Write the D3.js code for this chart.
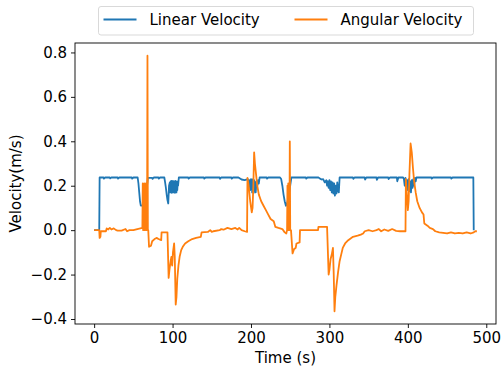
<!DOCTYPE html>
<html>
<head>
<meta charset="utf-8">
<script src="https://cdn.jsdelivr.net/npm/d3@7"></script>
<style>
  body { margin: 0; background: #fff; }
  svg { font-family: "DejaVu Sans", sans-serif; }
</style>
</head>
<body>
<div id="chart"></div>
<script>
// linear velocity samples (time s, m/s), one segment per line
const linearT = [
  0, 6.5, 7, 12, 12.5, 14, 20, 20.5, 22, 30, 30.5, 32, 40, 48, 48.5, 50, 55.5, 56.5, 57.5, 58.5, 59.5, 60.5, 62, 64, 66, 68.5,
  74, 74.5, 76, 82, 82.5, 84, 89.5, 90.5, 91.5, 92.5, 93.5, 94.5, 95.5, 96.5,
  97, 97.5, 98, 98.5, 99, 99.5, 100, 100.5, 101, 101.5, 102, 102.5, 103, 103.5, 104, 104.5, 105, 105.5, 106, 106.5, 107, 108,
  120, 120.5, 122, 140, 140.5, 142, 160, 160.5, 162, 175, 175.5, 177, 184, 188, 192,
  196, 197, 198, 199, 200, 200.5, 201, 201.5, 202, 202.5, 203, 203.5, 204, 204.5, 205, 206, 207, 208, 209, 210, 211,
  220, 220.5, 222, 237, 238.5, 240, 241.5, 243, 244.5, 246, 248, 250, 251.5, 270, 270.5, 272, 286, 288,
  290, 292, 294, 296, 297, 298, 299, 300, 301, 302, 303, 304, 305, 306, 307, 308, 309, 310, 311, 312, 313,
  330, 330.5, 332, 345, 345.5, 347, 360, 360.5, 362, 375, 375.5, 377, 386, 386.5, 388,
  394, 395, 396, 397, 398, 399, 400, 401, 402, 403, 404, 405, 406, 407, 408, 409, 410, 411,
  430, 430.5, 432, 455, 455.5, 457, 483.5, 484
];
const linearV = [
  0, 0, 0.237, 0.237, 0.232, 0.237, 0.237, 0.233, 0.237, 0.237, 0.232, 0.237, 0.237, 0.237, 0.232, 0.237, 0.237, 0.21, 0.17, 0.13, 0.11, 0.11, 0.11, 0.2, 0.15, 0.235,
  0.235, 0.231, 0.237, 0.237, 0.232, 0.237, 0.237, 0.215, 0.19, 0.16, 0.135, 0.12, 0.2, 0.215,
  0.17, 0.22, 0.175, 0.222, 0.168, 0.22, 0.18, 0.222, 0.17, 0.215, 0.18, 0.22, 0.168, 0.222, 0.175, 0.215, 0.17, 0.22, 0.18, 0.215, 0.2, 0.237,
  0.237, 0.232, 0.237, 0.237, 0.232, 0.237, 0.237, 0.231, 0.237, 0.237, 0.232, 0.237, 0.237, 0.228, 0.225,
  0.23, 0.2, 0.225, 0.18, 0.23, 0.19, 0.22, 0.17, 0.228, 0.185, 0.22, 0.168, 0.225, 0.18, 0.22, 0.17, 0.215, 0.2, 0.225, 0.21, 0.237,
  0.237, 0.232, 0.237, 0.237, 0.23, 0.2, 0.16, 0.13, 0.11, 0.12, 0.15, 0.2, 0.237, 0.237, 0.232, 0.237, 0.237, 0.232,
  0.228, 0.23, 0.215, 0.225, 0.2, 0.22, 0.19, 0.225, 0.18, 0.22, 0.17, 0.215, 0.165, 0.21, 0.155, 0.2, 0.165, 0.215, 0.175, 0.17, 0.237,
  0.237, 0.231, 0.237, 0.237, 0.228, 0.237, 0.237, 0.226, 0.237, 0.237, 0.23, 0.237, 0.237, 0.22, 0.237,
  0.237, 0.23, 0.2, 0.235, 0.19, 0.225, 0.18, 0.23, 0.175, 0.22, 0.17, 0.225, 0.19, 0.23, 0.2, 0.235, 0.22, 0.237,
  0.237, 0.232, 0.237, 0.237, 0.232, 0.237, 0.237, 0
];

// angular velocity samples (time s, rad/s), one segment per line
const angularT = [
  0, 6.5, 7, 8, 8.5, 15, 16, 18, 20, 22, 25, 28, 30, 35, 40, 42, 45, 50, 55,
  61.5, 62, 62.5, 63, 63.5, 64, 64.5, 65, 65.5, 66, 66.5, 67, 67.5, 68, 68.5, 69,
  70, 72.5, 74, 77, 80, 82, 85.5, 86, 93.5,
  95, 96, 97.5, 98.5, 99.5, 100.5, 102, 102.8, 104, 105, 106, 107.5, 109, 111, 113, 116, 120, 125, 130, 136, 137,
  145, 148, 150, 152, 160, 162, 165, 170, 175, 180, 183, 185, 188, 192, 195,
  195.5, 197, 199, 201, 202, 203, 204, 205, 206.5, 208, 210, 213, 216, 219, 222, 225, 229, 231, 235, 240, 243, 245,
  246, 246.5, 247, 247.5, 248, 248.5, 249, 249.5, 250, 251,
  253, 255, 257, 258, 262, 262.5, 270, 276, 285.5, 286, 297,
  299, 300, 301.5, 303, 304.5, 305.5, 306.5, 307.5, 309, 311, 313, 315, 317, 320, 324, 330, 336, 340, 343, 345,
  350, 355, 360, 363, 366, 370, 375, 380, 385, 390, 397,
  397.5, 399, 400, 401, 402, 403.5, 405, 406.5, 408, 410, 412, 415, 418, 420, 421, 425, 428, 432, 435,
  440, 445, 450, 455, 460, 465, 470, 475, 480, 484, 486, 488
];
const angularV = [
  0, 0, -0.035, -0.03, -0.005, -0.005, 0.008, 0.003, 0.01, 0.003, 0.008, 0, -0.002, -0.002, 0.005, -0.005, 0, 0, 0.005,
  0.01, 0.21, 0, 0.2, 0.01, 0.21, 0, 0.2, 0.01, 0.21, 0, 0.2, 0.005, 0.785, 0, 0,
  -0.075, -0.07, -0.05, -0.04, -0.035, -0.04, -0.045, -0.01, -0.01,
  -0.215, -0.18, -0.14, -0.12, -0.16, -0.1, -0.06, -0.12, -0.335, -0.3, -0.22, -0.16, -0.12, -0.09, -0.075, -0.06, -0.05, -0.04, -0.035, -0.03, -0.01,
  -0.008, 0, -0.008, -0.005, 0, 0.005, 0.002, 0.01, 0.005, 0.01, 0.003, 0.01, 0, -0.005, -0.008,
  0.235, 0.2, 0.13, 0.08, 0.1, 0.2, 0.35, 0.3, 0.25, 0.2, 0.16, 0.13, 0.11, 0.09, 0.07, 0.05, 0.04, 0.015, 0.01, 0.005, -0.01, -0.015,
  0, 0.2, 0.01, 0.21, 0, 0.2, 0.01, 0.4, 0, 0,
  -0.105, -0.085, -0.08, -0.06, -0.055, 0, 0, 0, 0, 0.015, 0.015,
  -0.2, -0.18, -0.13, -0.11, -0.08, -0.2, -0.365, -0.3, -0.25, -0.19, -0.14, -0.11, -0.08, -0.06, -0.045, -0.03, -0.025, -0.02, -0.015, -0.005,
  0, -0.005, 0, 0.005, -0.005, 0.003, -0.003, 0.005, -0.003, -0.005, -0.005,
  0.23, 0.15, 0.09, 0.13, 0.25, 0.39, 0.35, 0.28, 0.22, 0.17, 0.13, 0.1, 0.08, 0.07, 0.03, 0.02, 0.01, 0.005, -0.005,
  -0.01, -0.012, -0.015, -0.01, -0.015, -0.012, -0.015, -0.01, -0.015, -0.01, -0.005, -0.005
];

const xTicks = [0, 100, 200, 300, 400, 500];
const yTicks = [-0.4, -0.2, 0.0, 0.2, 0.4, 0.6, 0.8];
const seriesNames = ["Linear Velocity", "Angular Velocity"];
const seriesColors = ["#1f77b4", "#ff7f0e"];

const width = 501, height = 369;
const margin = { top: 43, right: 5, bottom: 45, left: 75 };
const innerW = width - margin.left - margin.right;
const innerH = height - margin.top - margin.bottom;
const fontSize = "15px";

const svg = d3.select("#chart").append("svg")
  .attr("width", width)
  .attr("height", height);

const series = [
  linearT.map((t, i) => ({ t, v: linearV[i] })),
  angularT.map((t, i) => ({ t, v: angularV[i] }))
];

// matplotlib-like 5% margins
const allT = linearT.concat(angularT), allV = linearV.concat(angularV);
const [tMin, tMax] = d3.extent(allT), [vMin, vMax] = d3.extent(allV);
const tPad = (tMax - tMin) * 0.05, vPad = (vMax - vMin) * 0.05;

const x = d3.scaleLinear().domain([tMin - tPad, tMax + tPad]).range([margin.left, margin.left + innerW]);
const y = d3.scaleLinear().domain([vMin - vPad, vMax + vPad]).range([margin.top + innerH, margin.top]);

const line = d3.line().x(d => x(d.t)).y(d => y(d.v));

const plot = svg.append("g");
series.forEach((s, i) => {
  plot.append("path")
    .datum(s)
    .attr("fill", "none")
    .attr("stroke", seriesColors[i])
    .attr("stroke-width", 1.8)
    .attr("stroke-linejoin", "round")
    .attr("d", line);
});

const xAxis = svg.append("g")
  .attr("transform", `translate(0,${margin.top + innerH})`)
  .call(d3.axisBottom(x).tickValues(xTicks).tickFormat(d3.format("d")).tickSize(4).tickPadding(4.5));
const yAxis = svg.append("g")
  .attr("transform", `translate(${margin.left},0)`)
  .call(d3.axisLeft(y).tickValues(yTicks).tickFormat(d3.format(".1f")).tickSize(4).tickPadding(4));

[xAxis, yAxis].forEach(g => {
  g.select(".domain").remove();
  g.selectAll("line").attr("stroke", "#000").attr("stroke-width", 0.9);
  g.selectAll("text").attr("fill", "#000").style("font-size", fontSize).style("font-family", "DejaVu Sans");
});

svg.append("rect")
  .attr("x", margin.left).attr("y", margin.top)
  .attr("width", innerW).attr("height", innerH)
  .attr("fill", "none").attr("stroke", "#000").attr("stroke-width", 0.9);

svg.append("text")
  .attr("x", margin.left + innerW / 2).attr("y", 363)
  .attr("text-anchor", "middle")
  .style("font-size", fontSize)
  .text("Time (s)");

svg.append("text")
  .attr("transform", `translate(21,${margin.top + innerH / 2}) rotate(-90)`)
  .attr("text-anchor", "middle")
  .style("font-size", fontSize)
  .text("Velocity(m/s)");

// legend
const legend = svg.append("g");
legend.append("rect")
  .attr("x", 98.5).attr("y", 6.5).attr("width", 375).attr("height", 28.5).attr("rx", 2.5)
  .attr("fill", "#fff").attr("fill-opacity", 0.8)
  .attr("stroke", "#d5d5d5").attr("stroke-width", 0.9);
const legendX = [103.5, 294.5];
seriesNames.forEach((name, i) => {
  legend.append("line")
    .attr("x1", legendX[i]).attr("x2", legendX[i] + 33)
    .attr("y1", 19.5).attr("y2", 19.5)
    .attr("stroke", seriesColors[i]).attr("stroke-width", 1.8);
  legend.append("text")
    .attr("x", legendX[i] + 46).attr("y", 25)
    .style("font-size", fontSize)
    .text(name);
});
</script>
</body>
</html>
